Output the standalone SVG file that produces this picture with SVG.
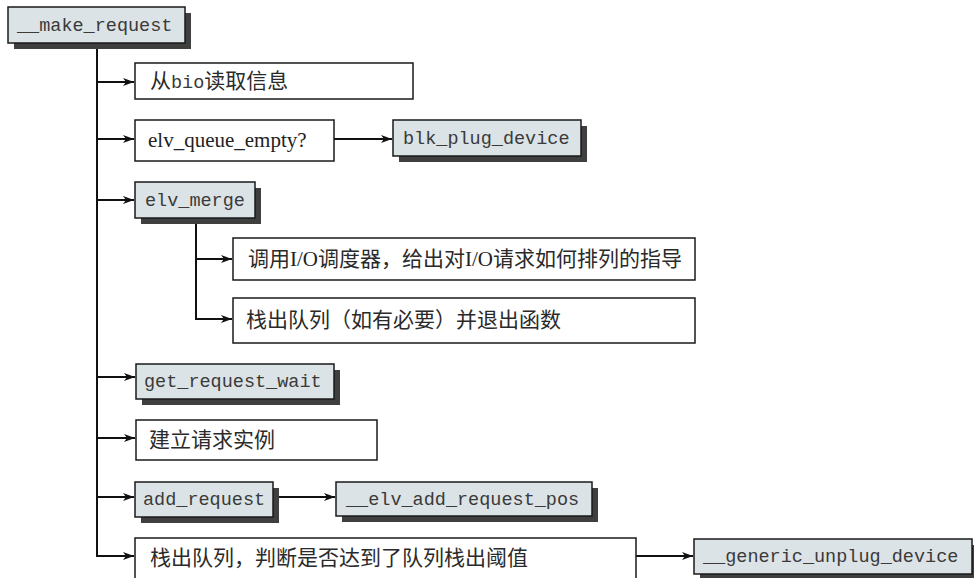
<svg xmlns="http://www.w3.org/2000/svg" width="974" height="578" viewBox="0 0 974 578">
<style>
.bg{fill:#ffffff}
.box{fill:#ffffff;stroke:#1a1a1a;stroke-width:1.5}
.code{fill:#dce3e6;stroke:#1a1a1a;stroke-width:1.5}
.sh{fill:#3f3f3f}
.mono{font-family:"Liberation Mono","Courier New",monospace;font-size:18.5px;fill:#3a3a3a}
.cjk{font-family:"Liberation Serif","Noto Sans CJK SC",serif;font-size:21px;fill:#2a2a2a}
.ser{font-family:"Liberation Serif","Times New Roman",serif;font-size:21px;fill:#222}
.con{fill:none;stroke:#111;stroke-width:2}
</style>
<defs>
<marker id="ah" markerWidth="12" markerHeight="10" refX="11" refY="5" orient="auto" markerUnits="userSpaceOnUse">
<path d="M0,1 L11,5 L0,9 L3,5 Z" fill="#111"/>
</marker>
</defs>
<rect class="bg" x="0" y="0" width="974" height="578"/>

<g id="connectors">
<path class="con" d="M97,43 V556 H134" marker-end="url(#ah)"/>
<path class="con" d="M97,82 H134" marker-end="url(#ah)"/>
<path class="con" d="M97,139 H134" marker-end="url(#ah)"/>
<path class="con" d="M97,200 H134" marker-end="url(#ah)"/>
<path class="con" d="M97,377 H135" marker-end="url(#ah)"/>
<path class="con" d="M97,438 H135" marker-end="url(#ah)"/>
<path class="con" d="M97,497 H134" marker-end="url(#ah)"/>
<path class="con" d="M334,139 H392" marker-end="url(#ah)"/>
<path class="con" d="M196,218 V319 H232" marker-end="url(#ah)"/>
<path class="con" d="M196,259 H232" marker-end="url(#ah)"/>
<path class="con" d="M273,497 H335" marker-end="url(#ah)"/>
<path class="con" d="M636,556 H693" marker-end="url(#ah)"/>
</g>

<g id="make_request">
<rect class="sh" x="14" y="13" width="177" height="36"/>
<rect class="code" x="8" y="7" width="177" height="36"/>
<text class="mono" x="17" y="31">__make_request</text>
</g>

<g id="read_bio">
<rect class="box" x="135" y="63" width="278" height="36"/>
<text class="cjk" x="150" y="88">从<tspan class="mono">bio</tspan>读取信息</text>
</g>

<g id="elv_queue_empty">
<rect class="box" x="135" y="120" width="199" height="41"/>
<text class="ser" x="148" y="147">elv_queue_empty?</text>
</g>

<g id="blk_plug_device">
<rect class="sh" x="399" y="126" width="188" height="36"/>
<rect class="code" x="393" y="120" width="188" height="36"/>
<text class="mono" x="403" y="144">blk_plug_device</text>
</g>

<g id="elv_merge">
<rect class="sh" x="141" y="188" width="120" height="36"/>
<rect class="code" x="135" y="182" width="120" height="36"/>
<text class="mono" x="145" y="206">elv_merge</text>
</g>

<g id="call_scheduler">
<rect class="box" x="233" y="238" width="462" height="42"/>
<text class="cjk" x="248" y="266">调用<tspan class="ser">I/O</tspan>调度器，给出对<tspan class="ser">I/O</tspan>请求如何排列的指导</text>
</g>

<g id="unplug_exit">
<rect class="box" x="233" y="298" width="462" height="45"/>
<text class="cjk" x="246" y="327">栈出队列（如有必要）并退出函数</text>
</g>

<g id="get_request_wait">
<rect class="sh" x="142" y="370" width="198" height="35"/>
<rect class="code" x="136" y="364" width="198" height="35"/>
<text class="mono" x="144" y="387">get_request_wait</text>
</g>

<g id="create_request">
<rect class="box" x="136" y="420" width="241" height="40"/>
<text class="cjk" x="149" y="447">建立请求实例</text>
</g>

<g id="add_request">
<rect class="sh" x="141" y="488" width="138" height="35"/>
<rect class="code" x="135" y="482" width="138" height="35"/>
<text class="mono" x="143" y="505">add_request</text>
</g>

<g id="elv_add_request_pos">
<rect class="sh" x="342" y="488" width="256" height="34"/>
<rect class="code" x="336" y="482" width="256" height="34"/>
<text class="mono" x="346" y="505">__elv_add_request_pos</text>
</g>

<g id="unplug_threshold">
<rect class="box" x="135" y="538" width="501" height="50"/>
<text class="cjk" x="150" y="565">栈出队列，判断是否达到了队列栈出阈值</text>
</g>

<g id="generic_unplug_device">
<rect class="sh" x="700" y="545" width="278" height="35"/>
<rect class="code" x="694" y="539" width="278" height="35"/>
<text class="mono" x="703" y="562">__generic_unplug_device</text>
</g>
</svg>
